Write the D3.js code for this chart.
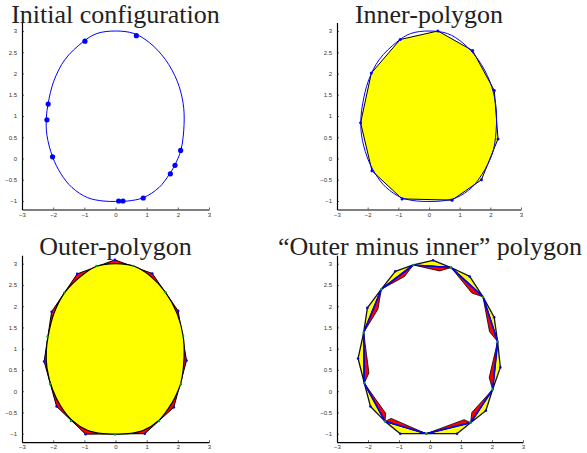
<!DOCTYPE html>
<html>
<head>
<meta charset="utf-8">
<style>
  body { margin: 0; background: #fff; }
  .tick text { font-family: "Liberation Sans", Arial, sans-serif; font-size: 6px; fill: #333; }
  .title { font-family: "Liberation Serif", "DejaVu Serif", serif; font-size: 26px; fill: #222; }
</style>
</head>
<body>
<div id="chart"></div>
<script src="https://d3js.org/d3.v7.min.js"></script>
<script>
// ---- data ----
var xTicks = [-3, -2, -1, 0, 1, 2, 3];
var yTicks = [-1, -0.5, 0, 0.5, 1, 1.5, 2, 2.5, 3];
var titles = ["Initial configuration", "Inner-polygon", "Outer-polygon", "\u201COuter minus inner\u201D polygon"];

// egg shaped closed curve
var eggX = [0, 0.6, 1.1, 1.6, 1.98, 2.17, 2.2, 2.1, 1.9, 1.72, 1.4, 0.9, 0.4, 0, -0.4, -0.9, -1.4, -1.75, -2.02, -2.2, -2.22, -2.16, -1.98, -1.62, -1.05, -0.6];
var eggY = [3.0, 2.94, 2.72, 2.33, 1.82, 1.3, 0.8, 0.2, -0.16, -0.38, -0.68, -0.92, -1.0, -1.01, -1.0, -0.92, -0.68, -0.36, 0.04, 0.55, 0.95, 1.3, 1.82, 2.33, 2.74, 2.94];

// panel 1 : initial points
var initX = [-0.98, 0.67, -2.16, -2.2, -2.02, 0.1, 0.24, 0.89, 2.09, 1.91, 1.76];
var initY = [2.76, 2.89, 1.28, 0.91, 0.04, -1.0, -1.0, -0.93, 0.19, -0.16, -0.36];

// panel 2 : inner polygon
var innerX = [0.29, 1.42, 2.13, 2.25, 1.71, 0.75, -0.88, -1.86, -2.23, -1.88, -0.94];
var innerY = [3.0, 2.54, 1.6, 0.46, -0.5, -0.98, -0.95, -0.29, 0.84, 2.01, 2.8];

// panel 3 : outer polygon and tangent points
var outerX = [-0.02, 1.18, 2.01, 2.28, 1.87, 0.94, -0.96, -1.89, -2.29, -2.05, -1.23];
var outerY = [3.09, 2.77, 1.89, 0.72, -0.38, -1.0, -1.01, -0.36, 0.7, 1.87, 2.76];
var tangX = [0.57, 1.6, 2.17, 2.1, 1.4, -0.02, -1.43, -2.1, -2.18, -1.64, -0.61];
var tangY = [2.95, 2.33, 1.3, 0.17, -0.7, -1.02, -0.7, 0.17, 1.28, 2.32, 2.95];

// panel 4 : inner points, outer vertices, wedge apices
var diffInX = [-0.54, 0.68, 1.71, 2.18, 2.02, 1.31, -0.12, -1.45, -2.12, -2.14, -1.57];
var diffInY = [2.97, 2.91, 2.22, 1.17, 0.04, -0.74, -1.0, -0.71, 0.19, 1.38, 2.4];
var diffOutX = [0.1, 1.28, 2.07, 2.27, 1.8, 0.87, -0.96, -1.92, -2.32, -2.02, -1.12];
var diffOutY = [3.08, 2.7, 1.74, 0.56, -0.46, -1.0, -1.0, -0.36, 0.77, 1.96, 2.82];
var wedgeX = [0.31, 1.35, 1.92, 1.91, 1.35, 1.1, -1.25, -1.43, -1.97, -1.68, -0.82];
var wedgeY = [2.83, 2.31, 1.4, 0.32, -0.5, -0.67, -0.64, -0.52, 0.43, 1.93, 2.7];

// ---- layout ----
var W = 587, H = 453;
var panels = [
  { x0: 22, x1: 209, yb: 209.5, yt: 22.5, ty: 22.5 },
  { x0: 337, x1: 521, yb: 209.5, yt: 22.5, ty: 22.5 },
  { x0: 22, x1: 209, yb: 442.2, yt: 255.2, ty: 255 },
  { x0: 337, x1: 523, yb: 442.2, yt: 255.2, ty: 255 }
];

var svg = d3.select("#chart").append("svg")
  .attr("width", W).attr("height", H)
  .style("display", "block");
svg.append("rect").attr("width", W).attr("height", H).attr("fill", "#fff");

function pts(xs, ys) { return xs.map(function(v, i) { return [v, ys[i]]; }); }

panels.forEach(function(p, k) {
  var x = d3.scaleLinear().domain([-3, 3]).range([p.x0, p.x1]);
  var y = d3.scaleLinear().domain([-1.2, 3.2]).range([p.yb, p.yt]);
  var g = svg.append("g");
  var poly = d3.line().x(function(d) { return x(d[0]); }).y(function(d) { return y(d[1]); });
  var egg = d3.line().x(function(d) { return x(d[0]); }).y(function(d) { return y(d[1]); })
    .curve(d3.curveCatmullRomClosed.alpha(0.5));
  var eggPts = pts(eggX, eggY);

  function dots(xs, ys, r, col) {
    g.selectAll(null).data(pts(xs, ys)).enter().append("circle")
      .attr("cx", function(d) { return x(d[0]); })
      .attr("cy", function(d) { return y(d[1]); })
      .attr("r", r).attr("fill", col);
  }

  if (k === 0) {
    g.append("path").attr("d", egg(eggPts)).attr("fill", "none").attr("stroke", "#0000ff").attr("stroke-width", 1);
    dots(initX, initY, 2.6, "#0000ff");
  } else if (k === 1) {
    g.append("path").attr("d", poly(pts(innerX, innerY)) + "Z").attr("fill", "#ffff00")
      .attr("stroke", "#000").attr("stroke-width", 1).attr("stroke-linejoin", "round");
    g.append("path").attr("d", egg(eggPts)).attr("fill", "none").attr("stroke", "#0000ff").attr("stroke-width", 1);
    dots(innerX, innerY, 1.5, "#0000ff");
  } else if (k === 2) {
    g.append("path").attr("d", poly(pts(outerX, outerY)) + "Z").attr("fill", "#ff0000")
      .attr("stroke", "#000").attr("stroke-width", 1).attr("stroke-linejoin", "round");
    g.append("path").attr("d", egg(eggPts)).attr("fill", "#ffff00").attr("stroke", "#000").attr("stroke-width", 1.2);
    dots(outerX, outerY, 1.3, "#0000ff");
    dots(tangX, tangY, 1.2, "#00aa00");
  } else {
    var gin = pts(diffInX, diffInY), gout = pts(diffOutX, diffOutY), ap = pts(wedgeX, wedgeY);
    var n = gin.length;
    // yellow triangles outside the inner polygon
    gout.forEach(function(o, i) {
      g.append("path").attr("d", poly([gin[i], o, gin[(i + 1) % n]]) + "Z")
        .attr("fill", "#ffff00").attr("stroke", "#111").attr("stroke-width", 1.3).attr("stroke-linejoin", "round");
    });
    // red wedges inside
    ap.forEach(function(a, i) {
      g.append("path").attr("d", poly([gin[i], gin[(i + 1) % n], a]) + "Z")
        .attr("fill", "#ff0000").attr("stroke", "#000").attr("stroke-width", 0.8).attr("stroke-linejoin", "round");
    });
    g.append("path").attr("d", poly(gin) + "Z").attr("fill", "none").attr("stroke", "#0000ff").attr("stroke-width", 1.7);
    dots(diffOutX, diffOutY, 1.3, "#0000ff");
    dots(diffInX, diffInY, 1.2, "#00aa00");
  }

  // axes (left and bottom only, ticks inward)
  var ax = g.append("g").attr("transform", "translate(0," + p.yb + ")")
    .call(d3.axisBottom(x).tickValues(xTicks).tickFormat(d3.format("")).tickSizeInner(-2).tickSizeOuter(0).tickPadding(3));
  var ay = g.append("g").attr("transform", "translate(" + p.x0 + ",0)")
    .call(d3.axisLeft(y).tickValues(yTicks).tickFormat(d3.format("")).tickSizeInner(-2).tickSizeOuter(0).tickPadding(5));
  [ax, ay].forEach(function(a) {
    a.select(".domain").attr("stroke", "#000").attr("stroke-width", 1.2);
    a.selectAll(".tick line").attr("stroke", "#000").attr("stroke-width", 0.6);
  });

  svg.append("text").attr("class", "title")
    .attr("x", (p.x0 + p.x1) / 2).attr("y", p.ty)
    .attr("text-anchor", "middle")
    .text(titles[k]);
});
</script>
</body>
</html>
